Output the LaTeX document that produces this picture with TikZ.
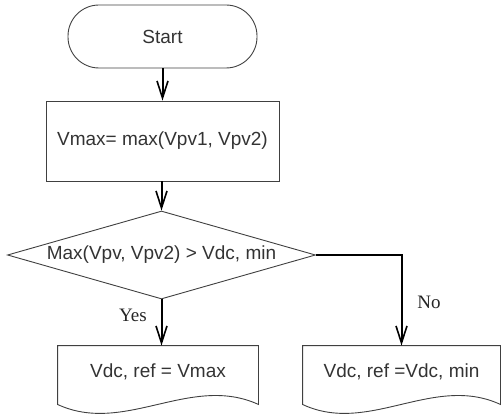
\documentclass[tikz,border=0pt]{standalone}
\usepackage{fontspec}
\setmainfont{Liberation Sans}
\newfontfamily\seriffam{Liberation Serif}
\usetikzlibrary{arrows.meta,shapes.geometric}
\begin{document}
\begin{tikzpicture}[x=1pt,y=-1pt,
  box/.style={draw=black!75, line width=0.9pt, font=\fontsize{19}{22}\selectfont, text=black!80, inner sep=0pt},
  docline/.style={draw=black!75, line width=0.9pt},
  flow/.style={line width=2pt, -{Straight Barb[length=17pt,width=11pt,line width=1.6pt]}},
  lbl/.style={font=\seriffam\fontsize{19}{21}\selectfont, text=black!85}]
\useasboundingbox (0,0) rectangle (501,414);
\node[box, rounded corners=31pt, minimum width=189pt, minimum height=63pt] (start) at (162.5,36.5) {Start};
\node[box, minimum width=233pt, minimum height=80pt] (calc) at (162.5,141) {Vmax= max(Vpv1, Vpv2)};
\node[box, diamond, minimum width=308pt, minimum height=88pt, aspect=3.5] (dec) at (161.5,255) {Max(Vpv, Vpv2) > Vdc, min};
\node[box, draw=none, minimum width=200pt, minimum height=52pt] (d1) at (158,372) {Vdc, ref = Vmax};
\node[box, draw=none, minimum width=197pt, minimum height=52pt] (d2) at (401.5,372) {Vdc, ref =Vdc, min};
\draw[docline] (d1.north west) -- ([shift={(0,6)}]d1.south west)
  .. controls ([shift={(67,37)}]d1.south west) and ([shift={(133,-25)}]d1.south west) .. ([shift={(0,6)}]d1.south east)
  -- (d1.north east) -- cycle;
\draw[docline] (d2.north west) -- ([shift={(0,6)}]d2.south west)
  .. controls ([shift={(66,37)}]d2.south west) and ([shift={(131,-25)}]d2.south west) .. ([shift={(0,6)}]d2.south east)
  -- (d2.north east) -- cycle;
\draw[flow] (start.south) -- (calc.north);
\draw[flow] (calc.south -| dec.north) -- (dec.north);
\draw[flow] (dec.south) -- (dec.south |- d1.north);
\draw[flow] (dec.east) -| (d2.north);
\node[lbl] (yes) at (133,315) {Yes};
\node[lbl] (no) at (429,302) {No};
\end{tikzpicture}
\end{document}
